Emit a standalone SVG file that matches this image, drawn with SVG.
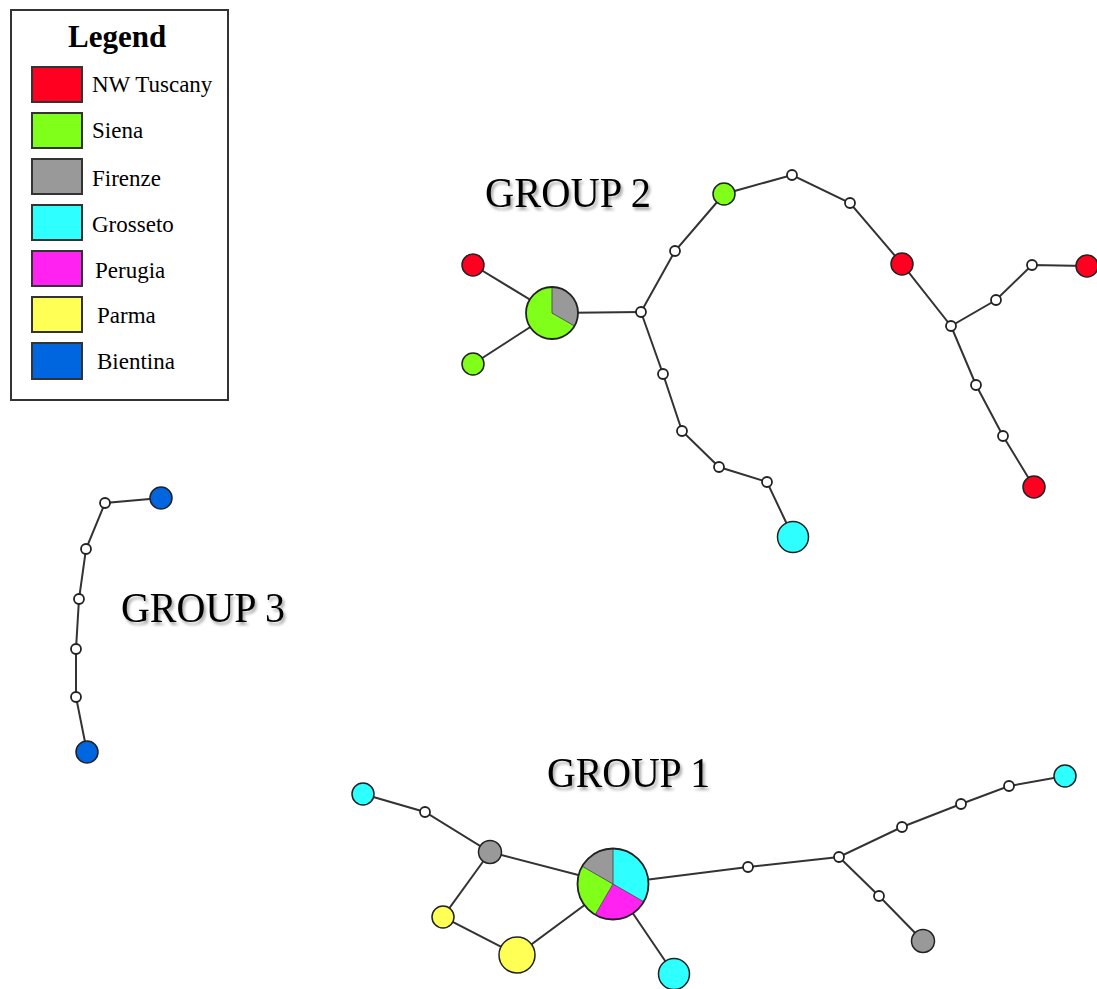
<svg xmlns="http://www.w3.org/2000/svg" width="1097" height="989" viewBox="0 0 1097 989">
<defs>
<filter id="sh" x="-10%" y="-30%" width="130%" height="170%">
<feDropShadow dx="2" dy="3" stdDeviation="1.8" flood-color="#000" flood-opacity="0.35"/>
</filter>
<style>
.lbl{font-family:"Liberation Serif","Times New Roman",serif;fill:#000}
.grp{font-family:"Liberation Serif","Times New Roman",serif;font-size:42px;fill:#000;filter:url(#sh)}
.leg{font-size:23px}
.sw{stroke:#333;stroke-width:2}
.e{stroke:#333;stroke-width:2;fill:none;stroke-linecap:round}
.n{stroke:#222;stroke-width:1.5}
.w{fill:#fff;stroke:#222;stroke-width:1.8}
.red{fill:#FF0020}.grn{fill:#80FF1A}.gry{fill:#999999}.cyn{fill:#2EFFFF}.mag{fill:#FF22F0}.yel{fill:#FFFF55}.blu{fill:#0066E0}
</style>
</defs>
<rect width="1097" height="989" fill="#fff"/>

<g id="legend">
<rect x="11" y="10" width="217" height="390" fill="#fff" stroke="#333" stroke-width="2"/>
<text class="lbl" x="68" y="47" font-size="31" font-weight="bold">Legend</text>
<rect class="sw red" x="32" y="67" width="50" height="35"/>
<text class="lbl leg" x="92" y="92">NW Tuscany</text>
<rect class="sw grn" x="32" y="113" width="50" height="35"/>
<text class="lbl leg" x="92" y="138">Siena</text>
<rect class="sw gry" x="32" y="159" width="50" height="35"/>
<text class="lbl leg" x="92" y="186">Firenze</text>
<rect class="sw cyn" x="32" y="205" width="50" height="35"/>
<text class="lbl leg" x="92" y="232">Grosseto</text>
<rect class="sw mag" x="32" y="251" width="50" height="35"/>
<text class="lbl leg" x="95" y="278">Perugia</text>
<rect class="sw yel" x="32" y="297" width="50" height="35"/>
<text class="lbl leg" x="97" y="323">Parma</text>
<rect class="sw blu" x="32" y="343" width="50" height="36"/>
<text class="lbl leg" x="97" y="369">Bientina</text>
</g>

<g id="labels">
<text class="grp" x="485" y="207" textLength="166" lengthAdjust="spacingAndGlyphs">GROUP 2</text>
<text class="grp" x="121" y="622" textLength="164" lengthAdjust="spacingAndGlyphs">GROUP 3</text>
<text class="grp" x="547" y="787" textLength="163" lengthAdjust="spacingAndGlyphs">GROUP 1</text>
</g>

<g id="connectors">
<!-- group 2 -->
<line class="e" x1="473" y1="265" x2="552" y2="313"/>
<line class="e" x1="473" y1="364" x2="552" y2="313"/>
<line class="e" x1="552" y1="313" x2="641" y2="312"/>
<polyline class="e" points="641,312 675,251 724,194 792,175 850,203 902,264 951,326 996,300 1032,265 1087,266"/>
<polyline class="e" points="951,326 976,385 1003,436 1034,487"/>
<polyline class="e" points="641,312 663,374 682,431 719,467 767,482 793,537"/>
<!-- group 3 -->
<polyline class="e" points="161,498 105,503 86,549 79,599 76,649 76,697 87,752"/>
<!-- group 1 -->
<polyline class="e" points="363,794 425,812 490,852 613,884"/>
<polyline class="e" points="490,852 443,917 517,955 613,884"/>
<line class="e" x1="613" y1="884" x2="674" y2="974"/>
<polyline class="e" points="613,884 748,867 839,857 902,827 961,804 1009,786 1065,776"/>
<polyline class="e" points="839,857 879,896 923,941"/>
</g>

<g id="group2-hub">
<path class="gry" d="M552,313 L552,287 A26,26 0 0,1 574.52,326 Z"/>
<path class="grn" d="M552,313 L574.52,326 A26,26 0 1,1 552,287 Z"/>
<line x1="552" y1="313" x2="552" y2="287" stroke="#555" stroke-width="1"/>
<line x1="552" y1="313" x2="574.52" y2="326" stroke="#555" stroke-width="1"/>
<circle cx="552" cy="313" r="26" fill="none" stroke="#222" stroke-width="1.8"/>
</g>
<g id="g2-red1"><circle class="n red" cx="473" cy="265" r="11"/></g>
<g id="g2-green1"><circle class="n grn" cx="473" cy="364" r="11"/></g>
<g id="g2-w1"><circle class="w" cx="641" cy="312" r="5"/></g>
<g id="g2-w2"><circle class="w" cx="675" cy="251" r="5"/></g>
<g id="g2-green2"><circle class="n grn" cx="724" cy="194" r="11"/></g>
<g id="g2-w3"><circle class="w" cx="792" cy="175" r="5"/></g>
<g id="g2-w4"><circle class="w" cx="850" cy="203" r="5"/></g>
<g id="g2-red2"><circle class="n red" cx="902" cy="264" r="11"/></g>
<g id="g2-w5"><circle class="w" cx="951" cy="326" r="5"/></g>
<g id="g2-w6"><circle class="w" cx="996" cy="300" r="5"/></g>
<g id="g2-w7"><circle class="w" cx="1032" cy="265" r="5"/></g>
<g id="g2-red3"><circle class="n red" cx="1087" cy="266" r="11"/></g>
<g id="g2-w8"><circle class="w" cx="976" cy="385" r="5"/></g>
<g id="g2-w9"><circle class="w" cx="1003" cy="436" r="5"/></g>
<g id="g2-red4"><circle class="n red" cx="1034" cy="487" r="11"/></g>
<g id="g2-w10"><circle class="w" cx="663" cy="374" r="5"/></g>
<g id="g2-w11"><circle class="w" cx="682" cy="431" r="5"/></g>
<g id="g2-w12"><circle class="w" cx="719" cy="467" r="5"/></g>
<g id="g2-w13"><circle class="w" cx="767" cy="482" r="5"/></g>
<g id="g2-cyan"><circle class="n cyn" cx="793" cy="537" r="15.5"/></g>

<g id="g3-blue1"><circle class="n blu" cx="161" cy="498" r="11"/></g>
<g id="g3-w1"><circle class="w" cx="105" cy="503" r="5"/></g>
<g id="g3-w2"><circle class="w" cx="86" cy="549" r="5"/></g>
<g id="g3-w3"><circle class="w" cx="79" cy="599" r="5"/></g>
<g id="g3-w4"><circle class="w" cx="76" cy="649" r="5"/></g>
<g id="g3-w5"><circle class="w" cx="76" cy="697" r="5"/></g>
<g id="g3-blue2"><circle class="n blu" cx="87" cy="752" r="11"/></g>

<g id="group1-hub">
<path class="cyn" d="M613,884 L613,848.5 A35.5,35.5 0 0,1 643.74,901.75 Z"/>
<path class="mag" d="M613,884 L643.74,901.75 A35.5,35.5 0 0,1 595.25,914.74 Z"/>
<path class="grn" d="M613,884 L595.25,914.74 A35.5,35.5 0 0,1 582.26,866.25 Z"/>
<path class="gry" d="M613,884 L582.26,866.25 A35.5,35.5 0 0,1 613,848.5 Z"/>
<path d="M613,848.5 L613,884 L643.74,901.75 M613,884 L595.25,914.74 M613,884 L582.26,866.25" fill="none" stroke="#555" stroke-width="1"/>
<circle cx="613" cy="884" r="35.5" fill="none" stroke="#222" stroke-width="1.8"/>
</g>
<g id="g1-cyan1"><circle class="n cyn" cx="363" cy="794" r="11"/></g>
<g id="g1-w1"><circle class="w" cx="425" cy="812" r="5"/></g>
<g id="g1-gray1"><circle class="n gry" cx="490" cy="852" r="11.5"/></g>
<g id="g1-yellow1"><circle class="n yel" cx="443" cy="917" r="11"/></g>
<g id="g1-yellow2"><circle class="n yel" cx="517" cy="955" r="18"/></g>
<g id="g1-cyan2"><circle class="n cyn" cx="674" cy="974" r="15.5"/></g>
<g id="g1-w2"><circle class="w" cx="748" cy="867" r="5"/></g>
<g id="g1-w3"><circle class="w" cx="839" cy="857" r="5"/></g>
<g id="g1-w4"><circle class="w" cx="902" cy="827" r="5"/></g>
<g id="g1-w5"><circle class="w" cx="961" cy="804" r="5"/></g>
<g id="g1-w6"><circle class="w" cx="1009" cy="786" r="5"/></g>
<g id="g1-cyan3"><circle class="n cyn" cx="1065" cy="776" r="11"/></g>
<g id="g1-w7"><circle class="w" cx="879" cy="896" r="5"/></g>
<g id="g1-gray2"><circle class="n gry" cx="923" cy="941" r="11.5"/></g>
</svg>
